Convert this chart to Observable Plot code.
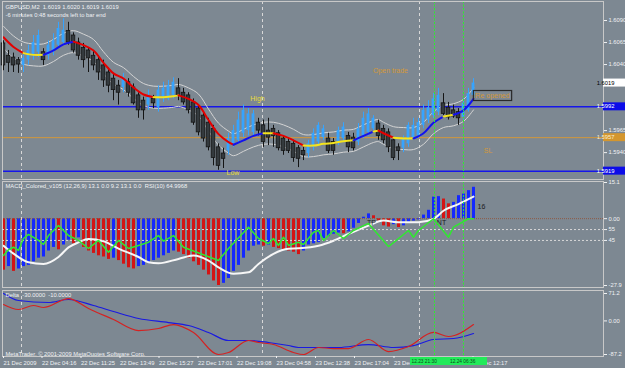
<!DOCTYPE html>
<html>
<head>
<meta charset="utf-8">
<script src="https://cdn.jsdelivr.net/npm/d3@7"></script>
<script src="https://cdn.jsdelivr.net/npm/@observablehq/plot@0.6"></script>
<style>
html,body{margin:0;padding:0;background:#7d8892;}
#chart{position:relative;width:625px;height:368px;background:#7d8892;overflow:hidden;}
#chart svg{position:absolute;left:0;top:0;}
</style>
</head>
<body>
<div id="chart"></div>
<script>
// ---------------- DATA ----------------
const symbol = "GBPUSD,M2";
const headerQuote = "1.6019 1.6020 1.6019 1.6019";
const headerTimer = "-6 minutes 0:48 seconds left to bar end";

const barOpen = [1.6064,1.6050,1.6048,1.6045,1.6039,1.6045,1.6050,1.6054,1.6054,1.6050,
1.6056,1.6062,1.6065,1.6078,1.6073,1.6065,1.6059,1.6056,1.6050,1.6045,
1.6039,1.6031,1.6024,1.6016,1.6014,1.6020,1.6014,1.6005,1.5999,1.5994,
1.6001,1.5991,1.6003,1.6001,1.6005,1.6013,1.6008,1.6005,1.5997,1.5990,
1.5982,1.5974,1.5967,1.5946,1.5939,1.5942,1.5950,1.5954,1.5962,1.5965,
1.5963,1.5974,1.5971,1.5965,1.5967,1.5962,1.5956,1.5952,1.5950,1.5945,
1.5942,1.5939,1.5946,1.5952,1.5957,1.5956,1.5952,1.5952,1.5956,1.5959,
1.5957,1.5952,1.5959,1.5963,1.5967,1.5973,1.5967,1.5963,1.5954,1.5946,
1.5945,1.5950,1.5957,1.5959,1.5971,1.5977,1.5982,1.5986,1.5996,1.5991,
1.5988,1.5986,1.5980,1.5988,1.6005];
const barHigh = [1.6067,1.6056,1.6053,1.6048,1.6053,1.6062,1.6073,1.6079,1.6058,1.6067,
1.6075,1.6088,1.6092,1.6088,1.6076,1.6070,1.6064,1.6059,1.6056,1.6050,
1.6045,1.6036,1.6030,1.6022,1.6030,1.6024,1.6018,1.6008,1.6003,1.6011,
1.6005,1.6016,1.6020,1.6022,1.6025,1.6024,1.6013,1.6008,1.6001,1.5994,
1.5986,1.5979,1.5971,1.5950,1.5945,1.5962,1.5971,1.5986,1.5994,1.5990,
1.5988,1.5979,1.5977,1.5979,1.5971,1.5965,1.5959,1.5956,1.5954,1.5948,
1.5946,1.5954,1.5967,1.5974,1.5971,1.5962,1.5956,1.5969,1.5974,1.5963,
1.5962,1.5973,1.5986,1.5990,1.5982,1.5977,1.5971,1.5967,1.5957,1.5950,
1.5959,1.5974,1.5979,1.5979,1.5994,1.5999,1.6007,1.6013,1.6007,1.5997,
1.5994,1.5990,1.6001,1.6013,1.6024];
const barLow = [1.6033,1.6031,1.6031,1.6030,1.6031,1.6039,1.6045,1.6048,1.6039,1.6045,
1.6050,1.6058,1.6062,1.6062,1.6053,1.6045,1.6036,1.6031,1.6033,1.6022,
1.6014,1.6008,1.5999,1.5994,1.6008,1.6003,1.5994,1.5979,1.5977,1.5988,
1.5990,1.5986,1.5997,1.5999,1.6001,1.5999,1.5994,1.5984,1.5971,1.5959,
1.5952,1.5942,1.5925,1.5920,1.5922,1.5937,1.5946,1.5950,1.5957,1.5959,
1.5959,1.5959,1.5946,1.5948,1.5946,1.5942,1.5937,1.5939,1.5929,1.5923,
1.5931,1.5934,1.5942,1.5948,1.5954,1.5939,1.5937,1.5948,1.5952,1.5940,
1.5942,1.5948,1.5956,1.5959,1.5963,1.5954,1.5950,1.5940,1.5931,1.5931,
1.5940,1.5946,1.5954,1.5956,1.5967,1.5973,1.5979,1.5982,1.5982,1.5977,
1.5979,1.5971,1.5977,1.5986,1.6001];
const barClose = [1.6039,1.6042,1.6039,1.6040,1.6047,1.6056,1.6065,1.6073,1.6045,1.6062,
1.6067,1.6081,1.6079,1.6065,1.6056,1.6050,1.6045,1.6047,1.6039,1.6031,
1.6022,1.6016,1.6011,1.6008,1.6024,1.6008,1.5996,1.5988,1.5988,1.6005,
1.5996,1.6011,1.6013,1.6016,1.6020,1.6005,1.5997,1.5988,1.5974,1.5963,
1.5956,1.5946,1.5934,1.5925,1.5933,1.5956,1.5965,1.5977,1.5988,1.5984,
1.5984,1.5965,1.5952,1.5957,1.5959,1.5945,1.5942,1.5942,1.5934,1.5933,
1.5937,1.5950,1.5962,1.5971,1.5967,1.5942,1.5942,1.5965,1.5969,1.5946,
1.5945,1.5967,1.5979,1.5984,1.5979,1.5959,1.5954,1.5946,1.5934,1.5942,
1.5956,1.5971,1.5971,1.5974,1.5988,1.5991,1.6001,1.6005,1.5984,1.5980,
1.5981,1.5979,1.5996,1.6007,1.6019];

const maIdx = [0,2,4,6,8,10,12,14,16,18,20,22,24,26,28,30,32,34,35,37,39,41,43,45,46,48,50,52,54,56,58,60,62,64,66,68,70,72,74,75,76,78,80,82,84,86,88,90,92,94];
const maVal = [1.6071,1.6060,1.6053,1.6051,1.6051,1.6056,1.6063,1.6066,1.6062,1.6056,
1.6042,1.6030,1.6024,1.6014,1.6006,1.6003,1.6003,1.6004,1.6005,1.6001,
1.5994,1.5977,1.5961,1.5952,1.5949,1.5954,1.5959,1.5962,1.5962,1.5959,
1.5954,1.5948,1.5948,1.5950,1.5951,1.5953,1.5954,1.5959,1.5964,1.5965,
1.5962,1.5957,1.5956,1.5956,1.5962,1.5974,1.5981,1.5983,1.5988,1.6001];

const priceTicks = [1.6090, 1.6065, 1.6040, 1.5965, 1.5940];
const blueLevels = [1.5992, 1.5919];
const orangeLevels = [1.5957];
const priceBoxes = [1.6019, 1.5992, 1.5957, 1.5919];

const sepIdx = [3.6, 51.8, 83.2];
const greenIdx = [86.2, 92];
const greenTimes = ["12.23 21:30", "12.24 06:36"];

const yellowNotes = [{t:"High", i:50.8, p:1.6001}, {t:"Low", i:45.9, p:1.59175}];
const orangeNotes = [{t:"Open trade", i:77.4, p:1.6033}, {t:"SL", i:96.9, p:1.5942}];
const reopenNote = {t:"Re opened", i:97.9, p:1.60043};

const macdTitle = "MACD_Colored_v105 (12,26,9) 13.1 0.0 9.2 13.1 0.0  RSI(10) 64.9968";
const macdHist = [-21.5,-20,-22,-21,-20,-19.5,-18,-16.5,-16,-13.5,
-12,-13,-11,-9,-10.5,-8,-12,-13.5,-14.5,-15.5,
-16,-17,-16.5,-17.5,-19,-20.5,-21,-20,-19.5,-18.5,
-17.5,-16.5,-15.5,-14.5,-13.5,-14,-15,-16.5,-18,-19.5,
-21.5,-23.5,-26,-27.9,-27,-25,-22,-19.5,-16.5,-13.5,
-11.5,-11,-11.5,-11,-12,-12.5,-13,-13.5,-14,-15,
-13.5,-11,-10.5,-10,-8.3,-7.5,-6.5,-6,-6.3,-5.5,
-4,-2,0.6,2,1.2,-1,-3,-3.5,-2.5,-3.7,
-3,-2,-1,-0.5,1.5,3.5,9,9.2,8.2,6.2,
6.8,9.6,10.3,11.7,13.1];
const signalIdx = [0,2,5,8,11,13,15,17,20,23,27,29,31,35,38,41,43,46,49,51,54,57,59,63,66,69,73,76,79,83,86,88,91,94];
const signalVal = [-11.3,-14.6,-18.2,-18.9,-16,-12,-9.9,-8.5,-9.4,-12.5,
-16,-18.2,-18.6,-16.8,-15.4,-17.5,-20.3,-23,-22.4,-18.9,
-14.7,-12.6,-12.4,-11.3,-9.2,-6.4,-2.9,-0.8,-1.5,-1.5,
-0.1,3.3,6.1,9.2];
const rsiIdx = [0,1,2,3,4,5,7,8,9,11,13,15,17,19,21,23,25,27,29,31,32,34,36,43,45,49,51,53,54,55,56,57,59,60,62,63,64,66,68,70,73,77,81,82,83,86,89,90,93,94];
const rsiVal = [31.2,36.5,38.8,35.8,46.8,50.5,45,41.3,49.5,58.7,
49.5,45,37.6,45,34.2,45,37.6,40.4,43.4,49.5,
44.3,49.5,38.8,26.6,37.6,57.2,46.8,42.2,46.8,40.4,
48,40.4,43.4,41.3,52.6,54.1,45,54.1,46.8,54.1,
60.6,39.4,54.1,48,54.1,64.9,48,57.2,64.9,65.0];
const rsiLevels = [55, 45];
const macdTicks = [15.1, 0, -27.9];
const macdNotes = [{t:"TP", i:73.6, v:-1.7}, {t:"NT", i:87.6, v:-1.7}, {t:"16", i:95.6, v:5}];

const deltaTitle = "Delta  -30.0000  -10.0000";
const copyright = "MetaTrader, \u00a9 2001-2009 MetaQuotes Software Corp.";
const deltaBlueIdx = [0,3,9,13,18,22,27,33,37,41,45,49,53,57,59,63,67,73,78,82,86,90,94];
const deltaBlueVal = [71.2,53,47.8,55.6,40,24.4,6.2,-4.2,-12,-30,-50.9,-50.9,-56,-63.9,-69,-69,-69,-61.3,-69,-64,-48.3,-45.7,-32.7];
const deltaRedIdx = [0,3,6,8,13,17,22,27,31,34,38,43,45,49,51,54,58,60,63,66,69,73,77,81,86,89,94];
const deltaRedVal = [42.6,29.6,40,34.8,58,32.2,3.6,-25,-19.7,-9.4,-30,-87.2,-82,-50.9,-56,-61.3,-82,-87.2,-69,-71.7,-71.7,-48.3,-79.5,-66.5,-30,-40.5,-9.4];
const deltaTicks = [71.2, 0, -87.2];

const timeTickIdx = [0, 7.7, 15.5, 23.3, 31.1, 38.9, 46.7, 54.6, 62.4, 70.2, 78.1, 93.9];
const timeTickLabels = ["21 Dec 2009","22 Dec 04:16","22 Dec 11:25","22 Dec 13:49","22 Dec 15:27","22 Dec 17:01","22 Dec 19:08","23 Dec 04:58","23 Dec 12:38","23 Dec 17:04","23 Dec","24 Dec 12:17"];

// ---------------- STYLE / LAYOUT ----------------
const W = 625, H = 368;
const FX = {left: 2, right: 603};
const font = '"Liberation Sans", Arial, sans-serif';
const FS = 5.8;
const C = {bull:"#36a4ff", bearFill:"#343a3e", bearLine:"#141414", maUp:"#1212ee", maDown:"#e40000", maFlat:"#f4e41c",
  band:"#d4d4d4", level:"#1616ea", orange:"#d3983a", yellow:"#e8dc3a", grid:"#d8d8d8", green:"#2cf02c",
  frame:"#c8c8c8", text:"#f0f2f4", histUp:"#1428ff", histDown:"#d41414", white:"#f6f6f6", rsi:"#30e830",
  dark:"#1c1c1c", zero:"#8e5a44", deltaBlue:"#1a1ae0", deltaRed:"#d42222"};
const xScale = {domain: [-0.2, 120], range: [FX.left, FX.right], axis: null};
const base = (top, bottom) => ({
  width: W, height: H,
  marginLeft: FX.left, marginRight: W - FX.right, marginTop: top, marginBottom: H - bottom,
  style: {background: "transparent", fontFamily: font, fontSize: FS + "px", color: C.text},
  color: {type: "identity"}
});
const rightAxis = (ticks, tickFormat) => Plot.axisY(ticks, {anchor: "right", label: null, tickFormat, tickSize: 3, tickPadding: 2, fontSize: FS, color: C.text});

// ---------------- DERIVED TABLES ----------------
const bars = barOpen.map((o, i) => ({i, o, h: barHigh[i], l: barLow[i], c: barClose[i], up: barClose[i] > barOpen[i]}));
const maPts = maIdx.map((i, k) => ({i, p: maVal[k]}));
const maRows = [];
{
  let run = null, runId = -1;
  for (let k = 0; k < maPts.length - 1; k++) {
    const a = maPts[k], b = maPts[k + 1];
    const s = (b.p - a.p) / (b.i - a.i);
    const c = s > 0.00012 ? C.maUp : s < -0.00012 ? C.maDown : C.maFlat;
    if (c !== run) { run = c; runId++; maRows.push({...a, run: runId, c}); }
    maRows.push({...b, run: runId, c});
  }
}
const hist = macdHist.map((v, i) => ({i, v, up: i > 0 && v > macdHist[i - 1]}));
const signal = signalIdx.map((i, k) => ({i, v: signalVal[k]}));
const rsi = rsiIdx.map((i, k) => ({i, v: rsiVal[k]}));
const dBlue = deltaBlueIdx.map((i, k) => ({i, v: deltaBlueVal[k]}));
const dRed = deltaRedIdx.map((i, k) => ({i, v: deltaRedVal[k]}));
const tickLabelMap = new Map(timeTickIdx.map((d, k) => [d, timeTickLabels[k]]));
const fmt2 = d => d === 0 ? "0.00" : d.toFixed(1);

const chart = document.getElementById("chart");

// ---------------- MAIN PRICE PANEL ----------------
const mainPlot = Plot.plot({
  ...base(1, 179),
  x: xScale,
  y: {domain: [1.59095, 1.61116], range: [179, 1]},
  marks: [
    Plot.ruleX(sepIdx, {stroke: C.grid, strokeDasharray: "3,3"}),
    Plot.ruleY(orangeLevels, {stroke: C.orange, strokeWidth: 1}),
    Plot.ruleY(blueLevels, {stroke: C.level, strokeWidth: 1.5}),
    Plot.line(maPts, {x: "i", y: "p", dy: -11, stroke: C.band, strokeWidth: 1, curve: "catmull-rom"}),
    Plot.line(maPts, {x: "i", y: "p", dy: 11, stroke: C.band, strokeWidth: 1, curve: "catmull-rom"}),
    Plot.ruleX(bars, {x: "i", y1: "l", y2: "h", stroke: d => d.up ? C.bull : C.bearLine, strokeWidth: 1}),
    Plot.rect(bars, {filter: d => d.up, x1: d => d.i - 0.28, x2: d => d.i + 0.28, y1: "o", y2: "c", fill: C.bull}),
    Plot.rect(bars, {filter: d => !d.up, x1: d => d.i - 0.36, x2: d => d.i + 0.36, y1: "o", y2: "c", fill: C.bearFill, stroke: C.bearLine, strokeWidth: 0.8}),
    Plot.line(maRows, {x: "i", y: "p", z: "run", stroke: "c", strokeWidth: 2, curve: "catmull-rom"}),
    Plot.ruleX(greenIdx, {stroke: C.green, strokeDasharray: "2,1.5"}),
    Plot.text(yellowNotes, {x: "i", y: "p", text: "t", fill: C.yellow, fontSize: 7}),
    Plot.text(orangeNotes, {x: "i", y: "p", text: "t", fill: C.orange, fontSize: 7}),
    Plot.text([`${symbol}  ${headerQuote}\n${headerTimer}`], {frameAnchor: "top-left", dx: 3, dy: 2, textAnchor: "start", lineAnchor: "top", fill: C.text, fontSize: FS, lineHeight: 1.35}),
    Plot.frame({stroke: C.frame}),
    rightAxis(priceTicks, d => d.toFixed(4))
  ]
});
chart.appendChild(mainPlot);

// ---------------- MACD PANEL ----------------
const macdPlot = Plot.plot({
  ...base(181, 287),
  x: xScale,
  y: {domain: [-27.9, 15.1], range: [285, 182]},
  marks: [
    Plot.ruleX(sepIdx, {stroke: C.grid, strokeDasharray: "3,3"}),
    Plot.ruleX(hist, {x: "i", y1: 0, y2: "v", stroke: d => d.up ? C.histUp : C.histDown, strokeWidth: 3}),
    Plot.ruleY([0], {stroke: C.zero, strokeDasharray: "1,1"}),
    Plot.line(signal, {x: "i", y: "v", stroke: C.white, strokeWidth: 2, curve: "monotone-x"}),
    Plot.ruleX(greenIdx, {stroke: C.green, strokeDasharray: "2,1.5"}),
    Plot.text(macdNotes, {x: "i", y: "v", text: "t", fill: C.dark, fontSize: 7}),
    Plot.text([macdTitle], {frameAnchor: "top-left", dx: 3, dy: 2, textAnchor: "start", lineAnchor: "top", fill: C.text, fontSize: FS}),
    Plot.frame({stroke: C.frame}),
    rightAxis(macdTicks, fmt2)
  ]
});
chart.appendChild(macdPlot);

// RSI overlay (own 0..100 scale)
const rsiPlot = Plot.plot({
  ...base(181, 287),
  x: xScale,
  y: {domain: [0, 100], range: [289, 180]},
  marks: [
    Plot.ruleY(rsiLevels, {stroke: C.grid, strokeDasharray: "2,2"}),
    Plot.line(rsi, {x: "i", y: "v", stroke: C.rsi, strokeWidth: 1.5}),
    rightAxis(rsiLevels, d => String(d))
  ]
});
chart.appendChild(rsiPlot);

// ---------------- DELTA PANEL ----------------
const deltaPlot = Plot.plot({
  ...base(290, 356),
  x: xScale,
  y: {domain: [-87.2, 71.2], range: [354, 293]},
  marks: [
    Plot.ruleX(sepIdx, {stroke: C.grid, strokeDasharray: "3,3"}),
    Plot.line(dBlue, {x: "i", y: "v", stroke: C.deltaBlue, strokeWidth: 1.2, curve: "monotone-x"}),
    Plot.line(dRed, {x: "i", y: "v", stroke: C.deltaRed, strokeWidth: 1.2, curve: "monotone-x"}),
    Plot.ruleX(greenIdx, {stroke: C.green, strokeDasharray: "2,1.5"}),
    Plot.text([deltaTitle], {frameAnchor: "top-left", dx: 3, dy: 2, textAnchor: "start", lineAnchor: "top", fill: C.text, fontSize: FS}),
    Plot.text([copyright], {frameAnchor: "bottom-left", dx: 3, dy: -1, textAnchor: "start", lineAnchor: "bottom", fill: C.text, fontSize: FS}),
    Plot.frame({stroke: C.frame}),
    rightAxis(deltaTicks, fmt2),
    Plot.axisX(timeTickIdx, {anchor: "bottom", label: null, tickFormat: d => tickLabelMap.get(d), textAnchor: "start", tickSize: 2, tickPadding: 2, fontSize: FS, color: C.text})
  ]
});
chart.appendChild(deltaPlot);

// ---------------- OVERLAYS USING PLOT SCALES ----------------
const xM = mainPlot.scale("x"), yM = mainPlot.scale("y");
const gMain = d3.select(mainPlot).append("g").attr("font-family", font);
const boxFill = ["#ffffff", "#0c0ce8", "#d4962e", "#0c0ce8"];
const boxText = ["#000000", "#ffffff", "#fbeed2", "#ffffff"];
priceBoxes.forEach((v, k) => {
  const y = yM.apply(v);
  gMain.append("rect").attr("x", FX.right).attr("y", y - 4).attr("width", W - FX.right).attr("height", 8).attr("fill", boxFill[k]);
  gMain.append("text").attr("x", FX.right + 2.5).attr("y", y).attr("dy", "0.35em").attr("font-size", FS).attr("fill", boxText[k]).text(v.toFixed(4));
});
{
  const cx = xM.apply(reopenNote.i), cy = yM.apply(reopenNote.p);
  const t = gMain.append("text").attr("x", cx).attr("y", cy).attr("dy", "0.35em").attr("text-anchor", "middle")
    .attr("font-size", 7).attr("fill", C.orange).text(reopenNote.t);
  const w = t.node().getComputedTextLength() + 4;
  gMain.insert("rect", "text:last-of-type").attr("x", cx - w / 2).attr("y", cy - 5).attr("width", w).attr("height", 10)
    .attr("fill", "none").attr("stroke", "#2a2a2a").attr("stroke-width", 1.2);
}
// time labels of the two vertical lines, one green strip on the time axis
const xD = deltaPlot.scale("x");
const gD = d3.select(deltaPlot).append("g").attr("font-family", font);
{
  const x0 = xD.apply(greenIdx[0]), x1 = xD.apply(greenIdx[1]);
  const left = x0 - 24, right = x1 + 24, mid = (left + right) / 2;
  gD.append("rect").attr("x", left).attr("y", 357).attr("width", right - left).attr("height", 8).attr("fill", "#22ea5a");
  gD.append("text").attr("x", left + 1.5).attr("y", 361).attr("dy", "0.35em").attr("text-anchor", "start").attr("font-size", 4.8).attr("fill", "#0b4a18").text(greenTimes[0]);
  gD.append("text").attr("x", mid + 1.5).attr("y", 361).attr("dy", "0.35em").attr("text-anchor", "start").attr("font-size", 4.8).attr("fill", "#0b4a18").text(greenTimes[1]);
}
</script>
</body>
</html>
